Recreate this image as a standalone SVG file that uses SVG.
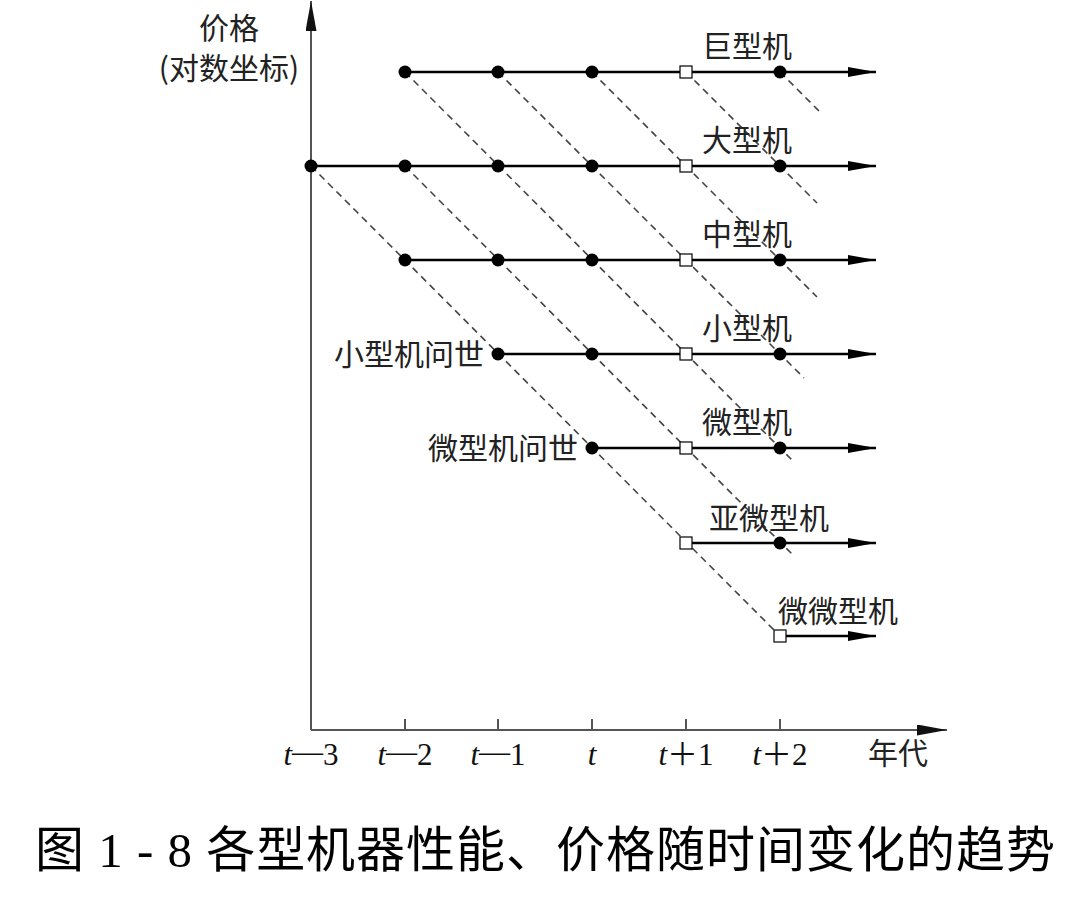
<svg xmlns="http://www.w3.org/2000/svg" width="1090" height="908" viewBox="0 0 1090 908">
<style>
.axis{stroke:#555;stroke-width:2;fill:none}
.series{stroke:#000;stroke-width:2.6;fill:none}
.dash{stroke:#444;stroke-width:1.6;stroke-dasharray:7 5;fill:none}
.dot{fill:#000}
.sq{fill:#fff;stroke:#000;stroke-width:1.2}
.lbl{font-family:"Noto Sans CJK SC","Noto Sans CJK JP",sans-serif;font-size:30px;fill:#222}
.tk{font-family:"Liberation Serif",serif;font-size:31px;fill:#111}
.pl{font-family:"Noto Sans CJK SC",sans-serif;font-size:31px}
.cap{font-family:"Liberation Serif","Noto Sans CJK SC",serif;font-size:49px;fill:#000}
</style>
<defs>
<marker id="arr" markerUnits="userSpaceOnUse" markerWidth="30" markerHeight="12" refX="28" refY="5" orient="auto">
<path d="M0,0 L28,5 L0,10 z" fill="#000"/>
</marker>
<marker id="axarr" markerUnits="userSpaceOnUse" markerWidth="32" markerHeight="12" refX="30" refY="5.5" orient="auto">
<path d="M0,0 L30,5.5 L0,11 z" fill="#111"/>
</marker>
</defs>
<rect width="1090" height="908" fill="#fff"/>

<g id="axes">
<line class="axis" x1="311" y1="730" x2="311" y2="1" marker-end="url(#axarr)"/>
<line class="axis" x1="311" y1="730" x2="947" y2="730" marker-end="url(#axarr)"/>
<path class="axis" d="M405,719V730M498,719V730M592,719V730M686,719V730M780,719V730"/>
<text class="lbl" x="229" y="39" text-anchor="middle">价格</text>
<text class="lbl" x="229" y="79" text-anchor="middle">(对数坐标)</text>
<text class="tk" x="311" y="765" text-anchor="middle"><tspan font-style="italic">t</tspan><tspan dy="-3">—</tspan><tspan dy="3">3</tspan></text>
<text class="tk" x="405" y="765" text-anchor="middle"><tspan font-style="italic">t</tspan><tspan dy="-3">—</tspan><tspan dy="3">2</tspan></text>
<text class="tk" x="498" y="765" text-anchor="middle"><tspan font-style="italic">t</tspan><tspan dy="-3">—</tspan><tspan dy="3">1</tspan></text>
<text class="tk" x="592" y="765" text-anchor="middle" font-style="italic">t</text>
<text class="tk" x="686" y="765" text-anchor="middle"><tspan font-style="italic">t</tspan><tspan class="pl">＋</tspan>1</text>
<text class="tk" x="780" y="765" text-anchor="middle"><tspan font-style="italic">t</tspan><tspan class="pl">＋</tspan>2</text>
<text class="lbl" x="898" y="764" text-anchor="middle">年代</text>
</g>

<g id="connectors">
<line class="dash" x1="311" y1="166" x2="780" y2="636"/>
<line class="dash" x1="405" y1="166" x2="793" y2="555"/>
<line class="dash" x1="405" y1="72" x2="792" y2="460"/>
<line class="dash" x1="498" y1="72" x2="804" y2="378"/>
<line class="dash" x1="592" y1="72" x2="817" y2="297"/>
<line class="dash" x1="686" y1="72" x2="817" y2="203"/>
<line class="dash" x1="780" y1="72" x2="822" y2="114"/>
</g>

<g id="giant">
<line class="series" x1="405" y1="72" x2="876" y2="72" marker-end="url(#arr)"/>
<circle class="dot" cx="405" cy="72" r="6.5"/><circle class="dot" cx="498" cy="72" r="6.5"/><circle class="dot" cx="592" cy="72" r="6.5"/>
<rect class="sq" x="680" y="66" width="12" height="12"/><circle class="dot" cx="780" cy="72" r="6.5"/>
<text class="lbl" x="747" y="57" text-anchor="middle">巨型机</text>
</g>
<g id="large">
<line class="series" x1="311" y1="166" x2="876" y2="166" marker-end="url(#arr)"/>
<circle class="dot" cx="311" cy="166" r="6.5"/><circle class="dot" cx="405" cy="166" r="6.5"/><circle class="dot" cx="498" cy="166" r="6.5"/><circle class="dot" cx="592" cy="166" r="6.5"/>
<rect class="sq" x="680" y="160" width="12" height="12"/><circle class="dot" cx="780" cy="166" r="6.5"/>
<text class="lbl" x="747" y="151" text-anchor="middle">大型机</text>
</g>
<g id="medium">
<line class="series" x1="405" y1="260" x2="876" y2="260" marker-end="url(#arr)"/>
<circle class="dot" cx="405" cy="260" r="6.5"/><circle class="dot" cx="498" cy="260" r="6.5"/><circle class="dot" cx="592" cy="260" r="6.5"/>
<rect class="sq" x="680" y="254" width="12" height="12"/><circle class="dot" cx="780" cy="260" r="6.5"/>
<text class="lbl" x="747" y="245" text-anchor="middle">中型机</text>
</g>
<g id="mini">
<line class="series" x1="498" y1="354" x2="876" y2="354" marker-end="url(#arr)"/>
<circle class="dot" cx="498" cy="354" r="6.5"/><circle class="dot" cx="592" cy="354" r="6.5"/>
<rect class="sq" x="680" y="348" width="12" height="12"/><circle class="dot" cx="780" cy="354" r="6.5"/>
<text class="lbl" x="747" y="339" text-anchor="middle">小型机</text>
<text class="lbl" x="484" y="365" text-anchor="end">小型机问世</text>
</g>
<g id="micro">
<line class="series" x1="592" y1="448" x2="876" y2="448" marker-end="url(#arr)"/>
<circle class="dot" cx="592" cy="448" r="6.5"/>
<rect class="sq" x="680" y="442" width="12" height="12"/><circle class="dot" cx="780" cy="448" r="6.5"/>
<text class="lbl" x="747" y="433" text-anchor="middle">微型机</text>
<text class="lbl" x="578" y="459" text-anchor="end">微型机问世</text>
</g>
<g id="submicro">
<line class="series" x1="686" y1="543" x2="876" y2="543" marker-end="url(#arr)"/>
<rect class="sq" x="680" y="537" width="12" height="12"/><circle class="dot" cx="780" cy="543" r="6.5"/>
<text class="lbl" x="769" y="529" text-anchor="middle">亚微型机</text>
</g>
<g id="picomicro">
<line class="series" x1="780" y1="636" x2="876" y2="636" marker-end="url(#arr)"/>
<rect class="sq" x="774" y="630" width="12" height="12"/>
<text class="lbl" x="838" y="622" text-anchor="middle">微微型机</text>
</g>

<g id="caption">
<text class="cap" x="35" y="867" textLength="1020" lengthAdjust="spacing">图 1 - 8  各型机器性能、价格随时间变化的趋势</text>
</g>
</svg>
